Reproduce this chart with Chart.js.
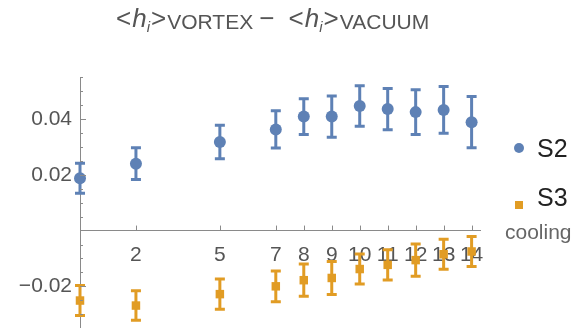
<!DOCTYPE html>
<html>
<head>
<meta charset="utf-8">
<script src="https://cdn.jsdelivr.net/npm/chart.js@4"></script>
<style>
  body { margin: 0; background: #fff; }
  #wrap { position: relative; width: 582px; height: 328px; overflow: hidden; font-family: 'Liberation Sans', Arial, sans-serif; }
  #wrap canvas { position: absolute; left: 0; top: 0; }
  #title { position: absolute; left: 115px; top: 3px; font-size: 26px; line-height: 30px; color: #555; white-space: nowrap; }
  #title .op { margin: 0 1px; }
  #title sub { font-size: 15px; vertical-align: -5px; font-style: italic; }
  #title .s { font-size: 21px; vertical-align: -2px; }
  #title .minus { margin: 0 6px 0 6px; }
  .leg { position: absolute; font-size: 25px; color: #222; line-height: 28px; }
  .mk { position: absolute; }
  #xlab { position: absolute; left: 505px; top: 220px; font-size: 21px; color: #666; }
</style>
</head>
<body>
<div id="wrap">
  <canvas id="chart"></canvas>
  <div id="title"><span class="op">&lt;</span><i>h</i><sub>i</sub><span class="op">&gt;</span><span class="s">VORTEX</span><span class="minus">−</span> <span class="op">&lt;</span><i>h</i><sub>i</sub><span class="op">&gt;</span><span class="s">VACUUM</span></div>
  <div class="mk" style="left:514px;top:143px;width:10px;height:10px;border-radius:50%;background:#5E81B5"></div>
  <div class="leg" style="left:537px;top:134px">S2</div>
  <div class="mk" style="left:515px;top:201px;width:8px;height:8px;background:#E19C24"></div>
  <div class="leg" style="left:537px;top:183px">S3</div>
  <div id="xlab">cooling</div>
</div>
<script>
// cooling steps and the two series with their error bars
const cooling = [0, 2, 5, 7, 8, 9, 10, 11, 12, 13, 14];
const s2 = [0.0188, 0.0240, 0.0318, 0.0363, 0.0409, 0.0409, 0.0447, 0.0436, 0.0425, 0.0433, 0.0389];
const s2Err = [0.0054, 0.0057, 0.0060, 0.0067, 0.0064, 0.0074, 0.0073, 0.0074, 0.0080, 0.0084, 0.0092];
const s3 = [-0.0251, -0.0269, -0.0228, -0.0200, -0.0178, -0.0170, -0.0138, -0.0123, -0.0106, -0.0085, -0.0075];
const s3Err = [0.0054, 0.0053, 0.0054, 0.0055, 0.0058, 0.0059, 0.0054, 0.0054, 0.0058, 0.0054, 0.0054];

const xTicks = [2, 5, 7, 8, 9, 10, 11, 12, 13, 14];
const yTicks = [-0.02, 0.02, 0.04];

const blue = '#5E81B5';
const orange = '#E19C24';
const axisColor = '#8a8a8a';

// error bars drawn under the markers
const errorBars = {
    id: 'errorBars',
    beforeDatasetsDraw(chart) {
        const { ctx, scales: { x, y } } = chart;
        chart.data.datasets.forEach(ds => {
            ctx.save();
            ctx.strokeStyle = ds.borderColor;
            ctx.lineWidth = 3;
            ds.data.forEach((p, i) => {
                const px = x.getPixelForValue(p.x);
                const top = y.getPixelForValue(p.y + ds.errors[i]);
                const bot = y.getPixelForValue(p.y - ds.errors[i]);
                ctx.beginPath();
                ctx.moveTo(px, top); ctx.lineTo(px, bot);
                ctx.moveTo(px - 5, top); ctx.lineTo(px + 5, top);
                ctx.moveTo(px - 5, bot); ctx.lineTo(px + 5, bot);
                ctx.stroke();
            });
            ctx.restore();
        });
    }
};

// inward tick marks like Mathematica axes
const tickMarks = {
    id: 'tickMarks',
    afterDraw(chart) {
        const { ctx, scales: { x, y } } = chart;
        const x0 = x.getPixelForValue(0);
        const y0 = y.getPixelForValue(0);
        ctx.save();
        ctx.strokeStyle = axisColor;
        ctx.lineWidth = 1;
        ctx.beginPath();
        // y axis runs to the bottom edge of the picture
        ctx.moveTo(Math.round(x0) + 0.5, chart.chartArea.bottom);
        ctx.lineTo(Math.round(x0) + 0.5, chart.height);
        xTicks.forEach(v => {
            const px = Math.round(x.getPixelForValue(v)) + 0.5;
            ctx.moveTo(px, y0); ctx.lineTo(px, y0 - 5);
        });
        for (let k = -7; k <= 11; k++) {
            const v = k * 0.005;
            if (k === 0) continue;
            const py = Math.round(y.getPixelForValue(v)) + 0.5;
            if (py < chart.chartArea.top || py > chart.height) continue;
            const len = (k % 4 === 0) ? 6 : 3;
            ctx.moveTo(x0, py); ctx.lineTo(x0 + len, py);
        }
        ctx.stroke();
        ctx.restore();
    }
};

const ctx = document.getElementById('chart').getContext('2d');
new Chart(ctx, {
    type: 'scatter',
    data: {
        datasets: [{
            label: 'S2',
            data: cooling.map((c, i) => ({ x: c, y: s2[i] })),
            errors: s2Err,
            backgroundColor: blue,
            borderColor: blue,
            pointStyle: 'circle',
            pointRadius: 6,
            borderWidth: 0,
            clip: false
        }, {
            label: 'S3',
            data: cooling.map((c, i) => ({ x: c, y: s3[i] })),
            errors: s3Err,
            backgroundColor: orange,
            borderColor: orange,
            pointStyle: 'rect',
            pointRadius: 6,
            borderWidth: 0,
            clip: false
        }]
    },
    options: {
        responsive: true,
        maintainAspectRatio: false,
        animation: false,
        layout: { padding: { left: 0, top: 77, right: 102, bottom: 0 } },
        plugins: { legend: { display: false }, tooltip: { enabled: false } },
        scales: {
            x: {
                type: 'linear',
                position: { y: 0 },
                min: 0,
                max: 14.3,
                afterBuildTicks: s => { s.ticks = xTicks.map(v => ({ value: v })); },
                afterFit: s => { s.height = 0; s.paddingLeft = 0; s.paddingRight = 0; },
                grid: { display: false, drawTicks: false },
                border: { display: true, color: axisColor, width: 1 },
                ticks: {
                    autoSkip: false,
                    maxRotation: 0,
                    padding: 12,
                    color: '#555',
                    font: { family: "'Liberation Sans', Arial, sans-serif", size: 21 }
                }
            },
            y: {
                type: 'linear',
                position: 'left',
                min: -0.0328,
                max: 0.0551,
                afterFit: s => { s.width = 80; s.paddingTop = 0; s.paddingBottom = 0; },
                afterBuildTicks: s => { s.ticks = yTicks.map(v => ({ value: v })); },
                grid: { display: false, drawTicks: false },
                border: { display: true, color: axisColor, width: 1 },
                ticks: {
                    padding: 8,
                    color: '#555',
                    font: { family: "'Liberation Sans', Arial, sans-serif", size: 21 },
                    callback: v => v < 0 ? '\u2212' + Math.abs(v).toFixed(2) : v.toFixed(2)
                }
            }
        }
    },
    plugins: [errorBars, tickMarks]
});
</script>
</body>
</html>
